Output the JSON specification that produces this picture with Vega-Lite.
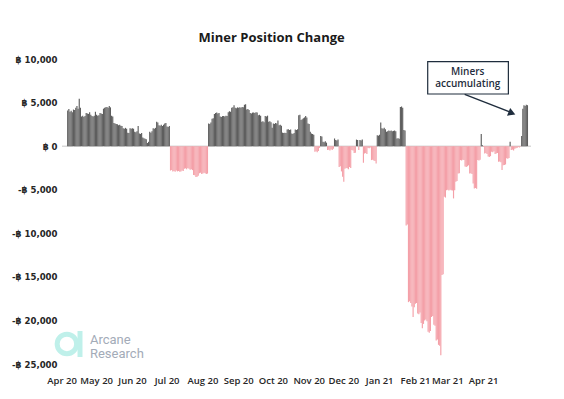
{
"$schema": "https://vega.github.io/schema/vega-lite/v6.json",
"width": 469, "height": 305,
"autosize": {"type": "none"},
"padding": {"left": 62, "top": 59, "right": 33, "bottom": 35},
"background": "white",
"config": {"view": {"stroke": null}, "font": "Open Sans"},
"title": {"text": "Miner Position Change", "fontSize": 13, "fontWeight": "bold", "color": "#1a1a1a", "frame": "bounds", "anchor": "middle", "offset": 9},
"datasets": {
"miner": [
{"date":"2020-04-05","v":4100},{"date":"2020-04-06","v":4250},{"date":"2020-04-07","v":3950},{"date":"2020-04-08","v":4050},{"date":"2020-04-09","v":3900},{"date":"2020-04-10","v":4200},{"date":"2020-04-11","v":4150},{"date":"2020-04-12","v":4400},{"date":"2020-04-13","v":4600},{"date":"2020-04-14","v":4300},{"date":"2020-04-15","v":5450},{"date":"2020-04-16","v":4400},{"date":"2020-04-17","v":3400},{"date":"2020-04-18","v":3500},{"date":"2020-04-19","v":3350},{"date":"2020-04-20","v":3450},{"date":"2020-04-21","v":3800},{"date":"2020-04-22","v":3750},{"date":"2020-04-23","v":3700},{"date":"2020-04-24","v":3900},{"date":"2020-04-25","v":3600},{"date":"2020-04-26","v":3450},{"date":"2020-04-27","v":3400},{"date":"2020-04-28","v":3500},{"date":"2020-04-29","v":3950},{"date":"2020-04-30","v":3600},
{"date":"2020-05-01","v":3500},{"date":"2020-05-02","v":3550},{"date":"2020-05-03","v":3800},{"date":"2020-05-04","v":3750},{"date":"2020-05-05","v":3700},{"date":"2020-05-06","v":4300},{"date":"2020-05-07","v":4400},{"date":"2020-05-08","v":4450},{"date":"2020-05-09","v":4500},{"date":"2020-05-10","v":4400},{"date":"2020-05-11","v":4600},{"date":"2020-05-12","v":4450},{"date":"2020-05-13","v":3500},{"date":"2020-05-14","v":3400},{"date":"2020-05-15","v":2650},{"date":"2020-05-16","v":2600},{"date":"2020-05-17","v":2550},{"date":"2020-05-18","v":2500},{"date":"2020-05-19","v":2400},{"date":"2020-05-20","v":2450},{"date":"2020-05-21","v":2350},{"date":"2020-05-22","v":2300},{"date":"2020-05-23","v":2050},{"date":"2020-05-24","v":2000},{"date":"2020-05-25","v":2100},{"date":"2020-05-26","v":2000},{"date":"2020-05-27","v":1550},{"date":"2020-05-28","v":1500},{"date":"2020-05-29","v":2050},{"date":"2020-05-30","v":2000},{"date":"2020-05-31","v":2050},
{"date":"2020-06-01","v":2000},{"date":"2020-06-02","v":1650},{"date":"2020-06-03","v":1600},{"date":"2020-06-04","v":1700},{"date":"2020-06-05","v":2300},{"date":"2020-06-06","v":1450},{"date":"2020-06-07","v":1400},{"date":"2020-06-08","v":1500},{"date":"2020-06-09","v":1000},{"date":"2020-06-10","v":900},{"date":"2020-06-11","v":850},{"date":"2020-06-12","v":800},{"date":"2020-06-13","v":350},{"date":"2020-06-14","v":500},{"date":"2020-06-15","v":1650},{"date":"2020-06-16","v":1550},{"date":"2020-06-17","v":1700},{"date":"2020-06-18","v":2050},{"date":"2020-06-19","v":2000},{"date":"2020-06-20","v":2100},{"date":"2020-06-21","v":2800},{"date":"2020-06-22","v":2700},{"date":"2020-06-23","v":2400},{"date":"2020-06-24","v":2350},{"date":"2020-06-25","v":2450},{"date":"2020-06-26","v":2300},{"date":"2020-06-27","v":2450},{"date":"2020-06-28","v":2600},{"date":"2020-06-29","v":2650},{"date":"2020-06-30","v":2250},
{"date":"2020-07-01","v":2200},{"date":"2020-07-02","v":2300},{"date":"2020-07-03","v":-2800},{"date":"2020-07-04","v":-2750},{"date":"2020-07-05","v":-2900},{"date":"2020-07-06","v":-2850},{"date":"2020-07-07","v":-2950},{"date":"2020-07-08","v":-2800},{"date":"2020-07-09","v":-2900},{"date":"2020-07-10","v":-2850},{"date":"2020-07-11","v":-2950},{"date":"2020-07-12","v":-2900},{"date":"2020-07-13","v":-2800},{"date":"2020-07-14","v":-2850},{"date":"2020-07-15","v":-2600},{"date":"2020-07-16","v":-2550},{"date":"2020-07-17","v":-2650},{"date":"2020-07-18","v":-2500},{"date":"2020-07-19","v":-2600},{"date":"2020-07-20","v":-2700},{"date":"2020-07-21","v":-2650},{"date":"2020-07-22","v":-2750},{"date":"2020-07-23","v":-3300},{"date":"2020-07-24","v":-3350},{"date":"2020-07-25","v":-3550},{"date":"2020-07-26","v":-3500},{"date":"2020-07-27","v":-3400},{"date":"2020-07-28","v":-3100},{"date":"2020-07-29","v":-3050},{"date":"2020-07-30","v":-3200},{"date":"2020-07-31","v":-3150},
{"date":"2020-08-01","v":-3050},{"date":"2020-08-02","v":-3100},{"date":"2020-08-03","v":-3200},{"date":"2020-08-04","v":-3150},{"date":"2020-08-05","v":2600},{"date":"2020-08-06","v":2550},{"date":"2020-08-07","v":2700},{"date":"2020-08-08","v":3150},{"date":"2020-08-09","v":3200},{"date":"2020-08-10","v":3700},{"date":"2020-08-11","v":3800},{"date":"2020-08-12","v":3850},{"date":"2020-08-13","v":3750},{"date":"2020-08-14","v":3800},{"date":"2020-08-15","v":3400},{"date":"2020-08-16","v":3350},{"date":"2020-08-17","v":3450},{"date":"2020-08-18","v":3450},{"date":"2020-08-19","v":3400},{"date":"2020-08-20","v":3500},{"date":"2020-08-21","v":3450},{"date":"2020-08-22","v":3900},{"date":"2020-08-23","v":4000},{"date":"2020-08-24","v":3950},{"date":"2020-08-25","v":4400},{"date":"2020-08-26","v":4450},{"date":"2020-08-27","v":4700},{"date":"2020-08-28","v":4400},{"date":"2020-08-29","v":4350},{"date":"2020-08-30","v":4450},{"date":"2020-08-31","v":4400},
{"date":"2020-09-01","v":4450},{"date":"2020-09-02","v":4400},{"date":"2020-09-03","v":4500},{"date":"2020-09-04","v":4450},{"date":"2020-09-05","v":4750},{"date":"2020-09-06","v":4800},{"date":"2020-09-07","v":4200},{"date":"2020-09-08","v":4250},{"date":"2020-09-09","v":4150},{"date":"2020-09-10","v":3800},{"date":"2020-09-11","v":3750},{"date":"2020-09-12","v":3850},{"date":"2020-09-13","v":3850},{"date":"2020-09-14","v":3800},{"date":"2020-09-15","v":3900},{"date":"2020-09-16","v":3850},{"date":"2020-09-17","v":3550},{"date":"2020-09-18","v":3600},{"date":"2020-09-19","v":3500},{"date":"2020-09-20","v":2800},{"date":"2020-09-21","v":2850},{"date":"2020-09-22","v":2750},{"date":"2020-09-23","v":3450},{"date":"2020-09-24","v":3400},{"date":"2020-09-25","v":3500},{"date":"2020-09-26","v":2800},{"date":"2020-09-27","v":2850},{"date":"2020-09-28","v":2750},{"date":"2020-09-29","v":2100},{"date":"2020-09-30","v":2600},
{"date":"2020-10-01","v":2550},{"date":"2020-10-02","v":2650},{"date":"2020-10-03","v":2600},{"date":"2020-10-04","v":2950},{"date":"2020-10-05","v":2400},{"date":"2020-10-06","v":2450},{"date":"2020-10-07","v":2350},{"date":"2020-10-08","v":1550},{"date":"2020-10-09","v":1500},{"date":"2020-10-10","v":1550},{"date":"2020-10-11","v":1500},{"date":"2020-10-12","v":1900},{"date":"2020-10-13","v":1950},{"date":"2020-10-14","v":1850},{"date":"2020-10-15","v":1900},{"date":"2020-10-16","v":1450},{"date":"2020-10-17","v":1400},{"date":"2020-10-18","v":1500},{"date":"2020-10-19","v":1900},{"date":"2020-10-20","v":1850},{"date":"2020-10-21","v":1950},{"date":"2020-10-22","v":3550},{"date":"2020-10-23","v":3600},{"date":"2020-10-24","v":3000},{"date":"2020-10-25","v":3100},{"date":"2020-10-26","v":3200},{"date":"2020-10-27","v":3300},{"date":"2020-10-28","v":3450},{"date":"2020-10-29","v":3300},{"date":"2020-10-30","v":2600},{"date":"2020-10-31","v":2550},
{"date":"2020-11-01","v":1650},{"date":"2020-11-02","v":1450},{"date":"2020-11-03","v":1400},{"date":"2020-11-04","v":1300},{"date":"2020-11-05","v":-650},{"date":"2020-11-06","v":-600},{"date":"2020-11-07","v":-700},{"date":"2020-11-08","v":-550},{"date":"2020-11-09","v":-200},{"date":"2020-11-10","v":1150},{"date":"2020-11-11","v":1100},{"date":"2020-11-12","v":500},{"date":"2020-11-13","v":450},{"date":"2020-11-14","v":550},{"date":"2020-11-15","v":400},{"date":"2020-11-16","v":-450},{"date":"2020-11-17","v":-400},{"date":"2020-11-18","v":-500},{"date":"2020-11-19","v":-350},{"date":"2020-11-20","v":-450},{"date":"2020-11-21","v":-300},{"date":"2020-11-22","v":880},{"date":"2020-11-23","v":700},{"date":"2020-11-24","v":650},{"date":"2020-11-25","v":750},{"date":"2020-11-26","v":-2400},{"date":"2020-11-27","v":-2300},{"date":"2020-11-28","v":-2900},{"date":"2020-11-29","v":-3500},{"date":"2020-11-30","v":-4100},
{"date":"2020-12-01","v":-2600},{"date":"2020-12-02","v":-2500},{"date":"2020-12-03","v":-2550},{"date":"2020-12-04","v":-2650},{"date":"2020-12-05","v":-2400},{"date":"2020-12-06","v":-2500},{"date":"2020-12-07","v":-450},{"date":"2020-12-08","v":-500},{"date":"2020-12-09","v":-800},{"date":"2020-12-10","v":-750},{"date":"2020-12-11","v":750},{"date":"2020-12-12","v":700},{"date":"2020-12-13","v":-450},{"date":"2020-12-14","v":700},{"date":"2020-12-15","v":650},{"date":"2020-12-16","v":750},{"date":"2020-12-17","v":-1900},{"date":"2020-12-18","v":-850},{"date":"2020-12-19","v":-800},{"date":"2020-12-20","v":-900},{"date":"2020-12-21","v":-200},{"date":"2020-12-22","v":-250},{"date":"2020-12-23","v":-150},{"date":"2020-12-24","v":-1600},{"date":"2020-12-25","v":-1550},{"date":"2020-12-26","v":-1650},{"date":"2020-12-27","v":-1700},{"date":"2020-12-28","v":-2000},{"date":"2020-12-29","v":1250},{"date":"2020-12-30","v":1200},{"date":"2020-12-31","v":1300},
{"date":"2021-01-01","v":2700},{"date":"2021-01-02","v":2050},{"date":"2021-01-03","v":2000},{"date":"2021-01-04","v":2100},{"date":"2021-01-05","v":1950},{"date":"2021-01-06","v":1650},{"date":"2021-01-07","v":1700},{"date":"2021-01-08","v":1800},{"date":"2021-01-09","v":1750},{"date":"2021-01-10","v":1800},{"date":"2021-01-11","v":1700},{"date":"2021-01-12","v":1750},{"date":"2021-01-13","v":1800},{"date":"2021-01-14","v":1700},{"date":"2021-01-15","v":880},{"date":"2021-01-16","v":900},{"date":"2021-01-17","v":850},{"date":"2021-01-18","v":4500},{"date":"2021-01-19","v":4550},{"date":"2021-01-20","v":4400},{"date":"2021-01-21","v":1850},{"date":"2021-01-22","v":1800},{"date":"2021-01-23","v":-9100},{"date":"2021-01-24","v":-9000},{"date":"2021-01-25","v":-17900},{"date":"2021-01-26","v":-17800},{"date":"2021-01-27","v":-18000},{"date":"2021-01-28","v":-18400},{"date":"2021-01-29","v":-19600},{"date":"2021-01-30","v":-18500},{"date":"2021-01-31","v":-18100},
{"date":"2021-02-01","v":-18000},{"date":"2021-02-02","v":-19200},{"date":"2021-02-03","v":-19300},{"date":"2021-02-04","v":-19100},{"date":"2021-02-05","v":-20300},{"date":"2021-02-06","v":-20900},{"date":"2021-02-07","v":-20400},{"date":"2021-02-08","v":-20000},{"date":"2021-02-09","v":-19900},{"date":"2021-02-10","v":-20100},{"date":"2021-02-11","v":-21300},{"date":"2021-02-12","v":-21400},{"date":"2021-02-13","v":-21200},{"date":"2021-02-14","v":-19600},{"date":"2021-02-15","v":-19500},{"date":"2021-02-16","v":-20500},{"date":"2021-02-17","v":-20600},{"date":"2021-02-18","v":-22300},{"date":"2021-02-19","v":-22200},{"date":"2021-02-20","v":-22800},{"date":"2021-02-21","v":-22900},{"date":"2021-02-22","v":-24000},{"date":"2021-02-23","v":-14800},{"date":"2021-02-24","v":-14700},{"date":"2021-02-25","v":-5800},{"date":"2021-02-26","v":-5900},{"date":"2021-02-27","v":-5050},{"date":"2021-02-28","v":-5000},
{"date":"2021-03-01","v":-5100},{"date":"2021-03-02","v":-5000},{"date":"2021-03-03","v":-5050},{"date":"2021-03-04","v":-5100},{"date":"2021-03-05","v":-6000},{"date":"2021-03-06","v":-5050},{"date":"2021-03-07","v":-4100},{"date":"2021-03-08","v":-4000},{"date":"2021-03-09","v":-3150},{"date":"2021-03-10","v":-3100},{"date":"2021-03-11","v":-1600},{"date":"2021-03-12","v":-1650},{"date":"2021-03-13","v":-1550},{"date":"2021-03-14","v":-1600},{"date":"2021-03-15","v":-2350},{"date":"2021-03-16","v":-2400},{"date":"2021-03-17","v":-2300},{"date":"2021-03-18","v":-2200},{"date":"2021-03-19","v":-3150},{"date":"2021-03-20","v":-3100},{"date":"2021-03-21","v":-3200},{"date":"2021-03-22","v":-4300},{"date":"2021-03-23","v":-4850},{"date":"2021-03-24","v":-4800},{"date":"2021-03-25","v":-4900},{"date":"2021-03-26","v":-1600},{"date":"2021-03-27","v":-1650},{"date":"2021-03-28","v":-1550},{"date":"2021-03-29","v":1400},{"date":"2021-03-30","v":100},{"date":"2021-03-31","v":-100},
{"date":"2021-04-01","v":-850},{"date":"2021-04-02","v":-800},{"date":"2021-04-03","v":-900},{"date":"2021-04-04","v":-1200},{"date":"2021-04-05","v":-1250},{"date":"2021-04-06","v":-1150},{"date":"2021-04-07","v":-650},{"date":"2021-04-08","v":-700},{"date":"2021-04-09","v":-600},{"date":"2021-04-10","v":-900},{"date":"2021-04-11","v":-850},{"date":"2021-04-12","v":-800},{"date":"2021-04-13","v":-1800},{"date":"2021-04-14","v":-1750},{"date":"2021-04-15","v":-1850},{"date":"2021-04-16","v":-2750},{"date":"2021-04-17","v":-2200},{"date":"2021-04-18","v":-2150},{"date":"2021-04-19","v":-2100},{"date":"2021-04-20","v":-1400},{"date":"2021-04-21","v":-1450},{"date":"2021-04-22","v":-1350},{"date":"2021-04-23","v":500},{"date":"2021-04-24","v":-450},{"date":"2021-04-25","v":-400},{"date":"2021-04-26","v":-500},{"date":"2021-04-27","v":-300},{"date":"2021-04-28","v":-250},{"date":"2021-04-29","v":-200},{"date":"2021-04-30","v":-100},
{"date":"2021-05-01","v":-150},{"date":"2021-05-02","v":-50},{"date":"2021-05-03","v":1150},{"date":"2021-05-04","v":4300},{"date":"2021-05-05","v":4700},{"date":"2021-05-06","v":4600},{"date":"2021-05-07","v":4750},{"date":"2021-05-08","v":4700}
],
"months": [{"m":"2020-04-01"},{"m":"2020-05-01"},{"m":"2020-06-01"},{"m":"2020-07-01"},{"m":"2020-08-01"},{"m":"2020-09-01"},{"m":"2020-10-01"},{"m":"2020-11-01"},{"m":"2020-12-01"},{"m":"2021-01-01"},{"m":"2021-02-01"},{"m":"2021-03-01"},{"m":"2021-04-01"}],
"one": [{"a": 1}]
},
"layer": [
{
"data": {"name": "one"},
"mark": {"type": "rule", "color": "#d9d9d9", "strokeWidth": 1.5},
"encoding": {"y": {"datum": 0}}
},
{
"data": {"name": "miner"},
"mark": {"type": "bar", "binSpacing": 0},
"encoding": {
"x": {"field": "date", "timeUnit": "yearmonthdate", "type": "temporal",
"scale": {"domain": [{"year": 2020, "month": 4, "date": 1}, {"year": 2021, "month": 5, "date": 12}]},
"axis": null},
"y": {"field": "v", "type": "quantitative",
"scale": {"domain": [-25000, 10000], "nice": false},
"axis": {"values": [-25000, -20000, -15000, -10000, -5000, 0, 5000, 10000],
"labelExpr": "datum.value < 0 ? '-฿ ' + format(-datum.value, ',') : '฿ ' + format(datum.value, ',')",
"domain": false, "ticks": false, "grid": false, "title": null,
"labelFont": "DejaVu Sans Condensed", 
"labelFontSize": 9.5, "labelFontWeight": "bold", "labelColor": "#262626", "labelPadding": 5}},
"color": {"condition": {"test": "datum.v >= 0", "value": "#5e5e5e"}, "value": "#f4a0a8"}
}
},
{
"data": {"name": "months"},
"mark": {"type": "text", "fontSize": 9.5, "fontWeight": 600, "color": "#262626", "baseline": "middle", "align": "center", "dy": 17},
"encoding": {
"x": {"field": "m", "type": "temporal"},
"y": {"datum": -25000},
"text": {"field": "m", "type": "temporal", "format": "%b %y"}
}
},
{
"data": {"name": "one"},
"mark": {"type": "rect", "fill": "white", "stroke": "#1f2d3d", "strokeWidth": 1.2},
"encoding": {
"x": {"datum": {"year": 2021, "month": 2, "date": 11, "hours": 14}},
"x2": {"datum": {"year": 2021, "month": 4, "date": 22, "hours": 10}},
"y": {"datum": 9690}, "y2": {"datum": 5984}
}
},
{
"data": {"name": "one"},
"mark": {"type": "text", "text": ["Miners", "accumulating"], "fontSize": 10, "fontWeight": 600, "color": "#1f2d3d", "lineHeight": 12.5, "baseline": "middle", "align": "center"},
"encoding": {
"x": {"datum": {"year": 2021, "month": 3, "date": 18, "hours": 6}},
"y": {"datum": 8530}
}
},
{
"data": {"name": "one"},
"mark": {"type": "rule", "color": "#1f2d3d", "strokeWidth": 1.3},
"encoding": {
"x": {"datum": {"year": 2021, "month": 3, "date": 15, "hours": 14}},
"x2": {"datum": {"year": 2021, "month": 4, "date": 25, "hours": 0}},
"y": {"datum": 5949}, "y2": {"datum": 3850}
}
},
{
"data": {"name": "one"},
"mark": {"type": "point", "shape": "triangle-right", "filled": true, "color": "#1f2d3d", "size": 70, "angle": 22.5, "opacity": 1},
"encoding": {
"x": {"datum": {"year": 2021, "month": 4, "date": 25, "hours": 12}},
"y": {"datum": 3780}
}
},
{
"data": {"name": "one"},
"mark": {"type": "point", "shape": "circle", "filled": false, "stroke": "#bff0ea", "strokeWidth": 5, "size": 380, "opacity": 1},
"encoding": {
"x": {"datum": {"year": 2020, "month": 4, "date": 5, "hours": 6}},
"y": {"datum": -22704}
}
},
{
"data": {"name": "one"},
"mark": {"type": "rule", "color": "#bff0ea", "strokeWidth": 5},
"encoding": {
"x": {"datum": {"year": 2020, "month": 4, "date": 16, "hours": 14}},
"y": {"datum": -21212}, "y2": {"datum": -24196}
}
},
{
"data": {"name": "one"},
"mark": {"type": "text", "text": ["Arcane", "Research"], "fontSize": 13, "font": "Roboto", "color": "#a3abb8", "lineHeight": 14, "baseline": "middle", "align": "left"},
"encoding": {
"x": {"datum": {"year": 2020, "month": 4, "date": 25, "hours": 5}},
"y": {"datum": -22300}
}
}
]
}
